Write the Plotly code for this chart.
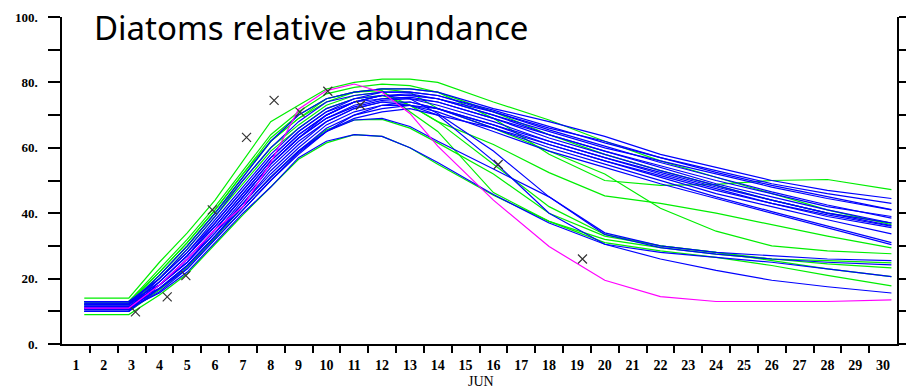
import plotly.graph_objects as go

# ---- data ----
days = [1.3, 2.9, 4, 5, 6, 7, 8, 9, 10, 11, 12, 13, 14, 16, 18, 20, 22, 24, 26, 28, 30.3]
day_labels = [str(d) for d in range(1, 31)]
y_tick_vals = [0, 10, 20, 30, 40, 50, 60, 70, 80, 90, 100]
y_tick_text = ["0.", "", "20.", "", "40.", "", "60.", "", "80.", "", "100."]

# blue model runs
blue_01 = [12.0, 12.0, 21, 30, 40, 51, 62, 70, 75, 77, 78, 78, 77, 72, 68, 63.5, 58, 54, 50, 47, 44.5]
blue_02 = [11.0, 11.0, 20, 29, 39, 50, 60, 68, 74, 76, 77, 77, 76, 71, 66, 62, 57, 53, 49, 46, 43]
blue_03 = [13.0, 13.0, 20, 28, 38, 48, 58, 66, 72, 75, 76, 76.5, 75, 70, 65, 60, 56, 52, 48, 44.5, 41]
blue_04 = [10.0, 10.0, 19, 27, 37, 47, 57, 65, 71, 74, 76, 76, 75, 70, 64, 59, 54, 49, 45, 41, 37]
blue_05 = [12.0, 12.0, 19, 27, 36, 46, 56, 64, 70, 74, 75, 75.5, 74, 69, 63, 58, 53, 48.5, 44, 40, 36.2]
blue_06 = [11.5, 11.5, 18, 26, 35, 45, 55, 63, 69, 73, 75, 75, 73, 68, 62, 57, 52, 47.5, 43, 39, 35.6]
blue_07 = [13.0, 13.0, 18, 25, 34, 44, 54, 62, 68, 72, 74, 74, 72, 67, 61, 56, 51, 46, 42, 38, 33.7]
blue_08 = [10.5, 10.5, 18, 25, 34, 43, 52, 60, 67, 71, 73, 73, 72, 66, 60, 55, 50, 45, 40.5, 36, 31]
blue_09 = [12.5, 12.5, 17, 24, 33, 42, 51, 59, 66, 70, 72, 73, 71, 65, 59, 54, 49, 44.5, 40, 35.5, 30.4]
blue_10 = [11.0, 11.0, 17, 23, 32, 41, 50, 58, 65, 69, 71, 72, 70, 66, 61, 56, 51.5, 47, 43, 39.5, 36]
blue_11 = [12.0, 12.0, 19, 27, 36, 46, 56, 64, 70, 74, 76, 76, 75, 71, 65.5, 60.5, 55.5, 51, 46.5, 42.5, 38.5]
blue_12 = [10.0, 10.0, 17, 24, 33, 42, 51, 59, 65, 70, 73, 74, 72, 67, 62, 57, 52.5, 48, 44, 40, 37]
blue_13 = [12.5, 12.5, 20, 28, 37, 47, 57, 65, 71, 75, 77, 77, 76, 71.5, 66.5, 61.5, 57, 52.5, 48.5, 45, 41.1]
blue_14 = [11.5, 11.5, 18, 25, 35, 45, 55, 63, 69, 72.5, 74.5, 75, 74, 69, 64, 59, 54.5, 50, 46, 42, 39]
blue_15 = [11.0, 11.0, 15.6, 22, 31, 40, 48, 57, 62, 64, 63.5, 60, 55.5, 45.7, 37, 30.5, 28, 26.5, 25, 23, 20.6]
blue_16 = [10.5, 10.5, 16, 23, 32, 41, 50, 58.5, 65, 68.5, 69, 66.5, 62, 53.5, 45, 33.5, 29.5, 27.5, 26, 25, 24.2]
blue_17 = [12.0, 12.0, 18, 26, 35, 45, 55, 63, 70, 74, 76, 75, 70.5, 59, 45, 34, 30, 28, 27, 26, 25.5]
blue_18 = [11.0, 11.0, 17, 24, 33, 43, 53, 61, 68, 72, 74, 73, 70, 56, 40, 30.5, 26, 22.5, 19.5, 17.5, 15.6]

# green model runs
green_01 = [14.0, 14.0, 25, 34, 44, 56, 68, 73, 78, 80, 81, 81, 80, 74, 68.5, 62, 56, 51, 46, 41, 36.5]
green_02 = [13.0, 13.0, 23, 32, 42, 53, 64, 71, 76.5, 78.5, 79.5, 79, 77, 69, 58, 50, 48.5, 48.8, 50, 50.3, 47.2]
green_03 = [12.0, 12.0, 21, 30, 40, 51, 62, 69, 75, 77, 78, 77, 72, 66, 59, 52, 41.5, 34.5, 30, 28.5, 27.6]
green_04 = [12.5, 12.5, 21, 30, 40, 50, 60, 67, 73, 76, 77, 73, 68, 61, 52.4, 45.3, 43, 40, 36.5, 33, 29.4]
green_05 = [9.0, 9.0, 15, 21.5, 30.5, 39.5, 48, 56.5, 61.5, 64, 63.5, 60, 55, 45.5, 37.5, 31, 28.5, 26.5, 24, 21, 17.8]
green_06 = [10.0, 10.0, 16.5, 23.5, 32.5, 42, 51, 59, 65.5, 68.5, 68.7, 66, 61.5, 52, 40, 33, 30, 28, 26, 24.5, 23.3]
green_07 = [13.0, 13.0, 22, 31, 41, 52, 63, 70, 75, 77, 77.5, 71, 65, 46.3, 37.5, 32, 29.5, 27.5, 26, 25.5, 24.8]
green_08 = [12.0, 12.0, 20, 29, 39, 49, 59, 66, 72, 75, 76, 73, 68, 55, 42, 33.5, 30, 28, 25.5, 23, 20.6]
green_09 = [12.5, 12.5, 22, 31, 41, 52, 62, 69, 74, 77, 78, 78, 77, 71, 64, 58, 53, 48.5, 44, 40, 37]

# magenta run
magenta_01 = [11.0, 11.0, 18, 26, 35, 42, 55.5, 71.8, 77.5, 79.5, 77, 70.5, 60.5, 44, 29.8, 19.5, 14.5, 13, 13, 13, 13.5]

# observations
obs_day = [3.14, 4.28, 4.95, 5.9, 7.13, 8.12, 9.05, 10.05, 11.22, 16.17, 19.2]
obs_val = [9.8, 14.4, 20.9, 41.0, 63.2, 74.5, 70.9, 77.3, 73.0, 54.9, 26.0]

greens = [green_01, green_02, green_03, green_04, green_05, green_06, green_07, green_08, green_09]
blues = [blue_01, blue_02, blue_03, blue_04, blue_05, blue_06, blue_07, blue_08, blue_09,
         blue_10, blue_11, blue_12, blue_13, blue_14, blue_15, blue_16, blue_17, blue_18]

fig = go.Figure()
for s in greens:
    fig.add_trace(go.Scatter(x=days, y=s, mode="lines", line=dict(color="#00ee00", width=1.2),
                             showlegend=False, hoverinfo="skip"))
for s in blues:
    fig.add_trace(go.Scatter(x=days, y=s, mode="lines", line=dict(color="#0000ff", width=1.2),
                             showlegend=False, hoverinfo="skip"))
fig.add_trace(go.Scatter(x=days, y=magenta_01, mode="lines", line=dict(color="#ff00ff", width=1.2),
                         showlegend=False, hoverinfo="skip"))
fig.add_trace(go.Scatter(x=obs_day, y=obs_val, mode="markers",
                         marker=dict(symbol="x-thin", size=9, line=dict(width=1.2, color="#333333")),
                         showlegend=False, hoverinfo="skip"))
# invisible trace for the right axis
fig.add_trace(go.Scatter(x=[None], y=[None], yaxis="y2", showlegend=False, hoverinfo="skip"))

x_tick_font = dict(family="Liberation Serif", size=14, color="black", weight="bold")
y_tick_font = dict(family="Liberation Serif", size=13, color="black", weight="bold")

fig.update_layout(
    width=911, height=390,
    margin=dict(l=62, r=7, t=17, b=46),
    paper_bgcolor="white", plot_bgcolor="white",
    xaxis=dict(range=[0.5, 30.5], tickmode="array", tickvals=list(range(1, 31)), ticktext=day_labels,
               ticks="", showgrid=False, zeroline=False, showline=True, linecolor="black", linewidth=1.5,
               tickfont=x_tick_font, ticklabelstandoff=7,
               minor=dict(tickmode="array", tickvals=[d + 0.5 for d in range(1, 30)], ticks="outside",
                          ticklen=7, tickcolor="black", tickwidth=1.5, showgrid=False)),
    yaxis=dict(range=[0, 100], tickmode="array", tickvals=y_tick_vals, ticktext=y_tick_text,
               ticks="outside", ticklen=12, tickwidth=1.5, tickcolor="black", showgrid=False,
               zeroline=False, showline=True, linecolor="black", linewidth=1.5,
               tickfont=y_tick_font, ticklabelstandoff=8),
    yaxis2=dict(range=[0, 100], overlaying="y", side="right", tickmode="array", tickvals=y_tick_vals,
                showticklabels=False, ticks="outside", ticklen=7, tickwidth=1.5, tickcolor="black",
                showgrid=False, zeroline=False, showline=True, linecolor="black", linewidth=1.5),
    annotations=[
        dict(text="Diatoms relative abundance", xref="paper", yref="paper", x=0.036, y=0.968,
             xanchor="left", yanchor="middle", showarrow=False,
             font=dict(family="Noto Sans", size=33, color="black")),
        dict(text="JUN", xref="x", yref="paper", x=15.55, y=-0.115, xanchor="center", yanchor="middle",
             showarrow=False, font=dict(family="Liberation Serif", size=14, color="black")),
    ],
)
fig.write_html("out.html")
